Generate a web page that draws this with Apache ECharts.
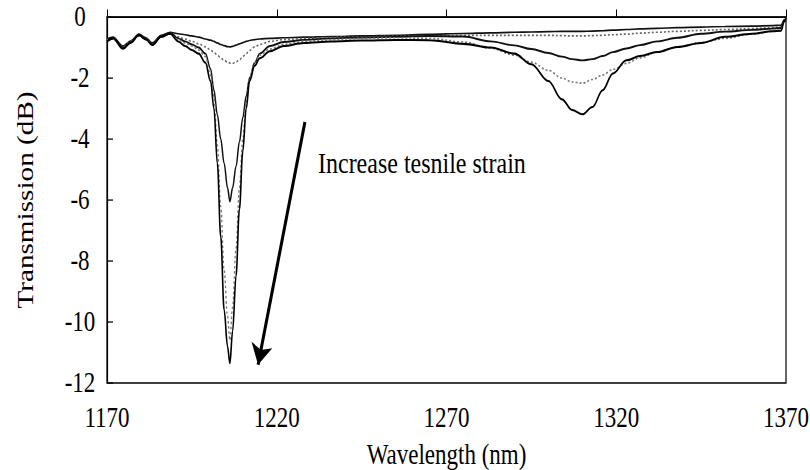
<!DOCTYPE html>
<html>
<head>
<meta charset="utf-8">
<script src="https://cdn.jsdelivr.net/npm/echarts@6/dist/echarts.min.js"></script>
<style>
  html, body { margin: 0; padding: 0; background: #fff; }
  body { width: 810px; height: 470px; }
  /* the figure is laid out at 810x370 and stretched vertically to 810x470 */
  #chart { width: 810px; height: 370px; transform: scaleY(1.2703); transform-origin: 0 0; }
</style>
</head>
<body>
<div id="chart"></div>
<script>
// Wavelength grid (nm) shared by all transmission traces
const wavelength = [1170, 1171.8, 1174.7, 1177, 1179.4, 1181.5, 1183.3, 1186, 1188.6,
  1191, 1193, 1195, 1197, 1199, 1200.5, 1201.5, 1202.5, 1203.5, 1204.5,
  1205.5, 1206.2, 1207, 1208, 1209, 1210, 1211, 1212, 1213.5, 1215,
  1218, 1222, 1228, 1236, 1245, 1255, 1265, 1275, 1283, 1290,
  1295, 1300, 1304, 1307, 1310, 1313, 1316, 1319, 1323, 1327,
  1332, 1338, 1345, 1352, 1360, 1366, 1368.5, 1369.5, 1370];

// Transmission (dB) for increasing tensile strain
const trans0 = [-0.72, -0.66, -0.95, -0.78, -0.56, -0.68, -0.85, -0.6, -0.5,
  -0.55, -0.58, -0.62, -0.66, -0.72, -0.76, -0.8, -0.85, -0.9, -0.94,
  -0.97, -0.98, -0.96, -0.92, -0.88, -0.84, -0.8, -0.77, -0.74, -0.72,
  -0.7, -0.68, -0.66, -0.64, -0.62, -0.6, -0.57, -0.54, -0.52, -0.5,
  -0.49, -0.48, -0.47, -0.47, -0.47, -0.46, -0.45, -0.43, -0.41, -0.39,
  -0.37, -0.35, -0.33, -0.31, -0.3, -0.28, -0.27, -0.1, -0.05];
const trans1 = [-0.75, -0.7, -0.98, -0.8, -0.6, -0.7, -0.88, -0.64, -0.53,
  -0.65, -0.72, -0.8, -0.88, -0.98, -1.08, -1.16, -1.25, -1.34, -1.42,
  -1.48, -1.51, -1.52, -1.48, -1.4, -1.3, -1.2, -1.1, -0.98, -0.9,
  -0.8, -0.74, -0.7, -0.67, -0.65, -0.63, -0.62, -0.6, -0.6, -0.6,
  -0.6, -0.6, -0.61, -0.62, -0.62, -0.61, -0.6, -0.58, -0.56, -0.53,
  -0.5, -0.47, -0.44, -0.41, -0.38, -0.35, -0.33, -0.12, -0.05];
const trans2 = [-0.78, -0.68, -1.0, -0.82, -0.58, -0.72, -0.9, -0.63, -0.52,
  -0.7, -0.8, -0.9, -1.0, -1.2, -1.7, -2.4, -3.2, -4.0, -4.8,
  -5.6, -6.05, -5.6, -4.9, -4.1, -3.3, -2.6, -2.0, -1.5, -1.2,
  -0.95, -0.82, -0.75, -0.7, -0.67, -0.65, -0.62, -0.64, -0.8, -0.93,
  -1.05, -1.18, -1.3, -1.38, -1.42, -1.38, -1.28, -1.15, -1.03, -0.92,
  -0.8, -0.68, -0.55, -0.48, -0.42, -0.38, -0.36, -0.1, -0.04];
const trans3 = [-0.76, -0.72, -1.02, -0.8, -0.62, -0.74, -0.9, -0.66, -0.55,
  -0.75, -0.85, -0.95, -1.08, -1.3, -1.9, -2.6, -4.2, -6.2, -8.3,
  -9.8, -10.6, -9.5, -7.6, -5.6, -4.0, -2.8, -2.0, -1.5, -1.25,
  -1.05, -0.9, -0.8, -0.74, -0.7, -0.68, -0.7, -0.82, -1.02, -1.25,
  -1.48, -1.75, -2.0, -2.13, -2.17, -2.05, -1.9, -1.72, -1.52, -1.34,
  -1.15, -0.98, -0.84, -0.7, -0.56, -0.47, -0.43, -0.15, -0.05];
const trans4 = [-0.8, -0.7, -1.04, -0.84, -0.6, -0.74, -0.92, -0.65, -0.55,
  -0.8, -0.95, -1.08, -1.2, -1.5, -2.1, -3.0, -4.8, -7.2, -9.6,
  -10.8, -11.35, -10.3, -8.5, -6.3, -4.4, -3.0, -2.1, -1.6, -1.35,
  -1.12, -0.95, -0.85, -0.8, -0.77, -0.75, -0.76, -0.88, -1.0, -1.2,
  -1.55, -2.1, -2.7, -3.05, -3.19, -2.95, -2.4, -1.85, -1.42, -1.28,
  -1.15, -0.98, -0.85, -0.65, -0.55, -0.47, -0.45, -0.15, -0.05];

// Axis ranges and tick spacing
const xTicks = { min: 1170, max: 1370, step: 50 };
const yTicks = { min: -12, max: 0, step: 2 };

// Arrow showing the direction of increasing strain (data coordinates)
const arrowFrom = [1228.3, -3.44];
const arrowTo = [1214.5, -11.4];
const annotation = 'Increase tesnile strain';

const FONT = 'Liberation Serif';
const pairs = ys => wavelength.map((w, i) => [w, ys[i]]);

const traceStyles = [
  { data: trans0, color: '#111', width: 1.3, type: 'solid' },
  { data: trans1, color: '#666', width: 1.3, type: [2, 2] },
  { data: trans2, color: '#111', width: 1.5, type: 'solid' },
  { data: trans3, color: '#777', width: 1.3, type: [2, 2] },
  { data: trans4, color: '#000', width: 1.6, type: 'solid' }
];

const series = traceStyles.map((t, i) => ({
  type: 'line',
  data: pairs(t.data),
  showSymbol: false,
  smooth: 0.35,
  smoothMonotone: 'x',
  lineStyle: { color: t.color, width: t.width, type: t.type },
  z: 2 + i
}));

series[4].markLine = {
  silent: true,
  symbol: ['none', 'arrow'],
  symbolSize: 16,
  label: { show: false },
  lineStyle: { color: '#000', width: 3, type: 'solid' },
  data: [[{ coord: arrowFrom }, { coord: arrowTo }]]
};

const chart = echarts.init(document.getElementById('chart'), null, { renderer: 'svg' });
chart.setOption({
  animation: false,
  backgroundColor: '#fff',
  textStyle: { fontFamily: FONT, color: '#000' },
  grid: {
    left: 107, right: 24, top: 13.4, bottom: 68.5,
    outerBoundsMode: 'none', containLabel: false,
    show: true, borderColor: '#000', borderWidth: 1.2
  },
  xAxis: {
    type: 'value', min: xTicks.min, max: xTicks.max, interval: xTicks.step,
    name: 'Wavelength (nm)', nameLocation: 'middle', nameGap: 45,
    nameTextStyle: { fontFamily: FONT, fontSize: 23, color: '#000' },
    axisLine: { show: true, lineStyle: { color: '#000', width: 1.2 } },
    axisTick: { show: true, inside: true, length: 6, lineStyle: { color: '#000', width: 1 } },
    axisLabel: { fontFamily: FONT, fontSize: 23, color: '#000', margin: 15.5, formatter: v => String(v) },
    splitLine: { show: false }
  },
  yAxis: {
    type: 'value', min: yTicks.min, max: yTicks.max, interval: yTicks.step,
    name: 'Transmission (dB)', nameLocation: 'middle', nameGap: 70, nameRotate: 90,
    nameTextStyle: { fontFamily: FONT, fontSize: 23, color: '#000' },
    axisLine: { show: true, lineStyle: { color: '#000', width: 1.2 } },
    axisTick: { show: true, inside: true, length: 6, lineStyle: { color: '#000', width: 1 } },
    axisLabel: { fontFamily: FONT, fontSize: 23, color: '#000', margin: 27, align: 'center', formatter: v => String(v) },
    splitLine: { show: false }
  },
  graphic: [{
    type: 'text', left: 318, top: 116,
    style: { text: annotation, font: '24px ' + FONT, fill: '#000' }
  }],
  series: series
});
</script>
</body>
</html>
